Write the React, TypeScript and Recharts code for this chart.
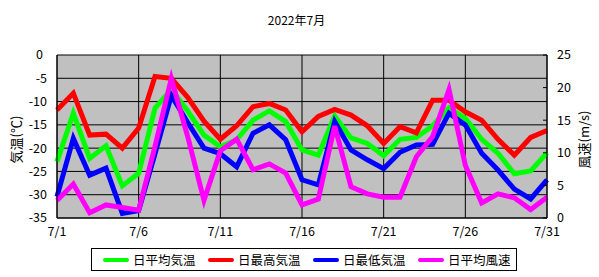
import { CartesianGrid, ComposedChart, Line, XAxis, YAxis } from "recharts"

const days = [
  1, 2, 3, 4, 5, 6, 7, 8, 9, 10, 11, 12, 13, 14, 15, 16, 17, 18, 19, 20, 21,
  22, 23, 24, 25, 26, 27, 28, 29, 30, 31,
]

const avgTemp = [
  -22.9, -12.5, -22.2, -19.5, -28.1, -25.4, -11.4, -7.4, -12.0, -17.2, -19.7,
  -18.2, -14.0, -12.0, -14.3, -20.4, -21.5, -13.1, -17.8, -19.0, -21.6, -18.1,
  -17.7, -15.2, -11.4, -13.6, -18.1, -21.1, -25.5, -24.9, -21.0,
]

const maxTemp = [
  -11.8, -8.2, -17.2, -17.0, -20.0, -15.7, -4.6, -5.0, -9.1, -14.2, -18.1,
  -15.2, -11.1, -10.4, -11.8, -16.5, -13.2, -11.7, -12.9, -15.2, -19.0, -15.4,
  -16.7, -9.7, -9.7, -12.2, -14.0, -18.1, -21.5, -17.7, -16.2,
]

const minTemp = [
  -30.4, -17.9, -25.8, -24.3, -34.0, -33.4, -21.2, -8.7, -14.5, -20.0, -21.2,
  -24.0, -16.8, -15.0, -18.2, -26.8, -27.9, -14.3, -20.4, -22.5, -24.4, -20.9,
  -19.3, -19.2, -12.5, -15.0, -21.1, -24.7, -28.8, -30.9, -26.8,
]

const avgWind = [
  2.7, 5.2, 0.8, 2.0, 1.6, 1.2, 11.0, 21.4, 12.5, 2.7, 10.3, 12.1, 7.4, 8.3,
  6.9, 2.0, 2.9, 14.1, 4.8, 3.7, 3.2, 3.2, 9.4, 12.5, 19.7, 8.1, 2.3, 3.7, 3.1,
  1.3, 3.2,
]

const xTicks = [1, 6, 11, 16, 21, 26, 31]
const tempTicks = [-35, -30, -25, -20, -15, -10, -5, 0]
const windTicks = [0, 5, 10, 15, 20, 25]

const series = [
  { key: "avgTemp", name: "日平均気温", color: "#00FF00", axis: "temp" },
  { key: "maxTemp", name: "日最高気温", color: "#FF0000", axis: "temp" },
  { key: "minTemp", name: "日最低気温", color: "#0000FF", axis: "temp" },
  { key: "avgWind", name: "日平均風速", color: "#FF00FF", axis: "wind" },
]

const font = '"Noto Sans CJK JP", "Noto Sans", sans-serif'

const data = days.map((day, i) => ({
  day,
  avgTemp: avgTemp[i],
  maxTemp: maxTemp[i],
  minTemp: minTemp[i],
  avgWind: avgWind[i],
}))

const LeftTick = ({ x, y, payload }: any) => (
  <text
    x={x - (payload.value === 0 ? 4 : 0)}
    y={y}
    dy="0.35em"
    textAnchor="end"
    fontSize={12.5}
    fontFamily={font}
    fill="#000"
  >
    {payload.value}
  </text>
)

// right axis: short tick mark drawn inward, label to the right
const RightTick = ({ x, y, payload }: any) => (
  <g>
    <line x1={x - 4} x2={x} y1={y} y2={y} stroke="#000" />
    <text
      x={x + 10}
      y={y}
      dy="0.35em"
      textAnchor="start"
      fontSize={12.5}
      fontFamily={font}
      fill="#000"
    >
      {payload.value}
    </text>
  </g>
)

const axisTitle = (text: string, dx: number) => (props: any) => {
  const vb = props.viewBox || { x: 0, y: 0, width: 0, height: 0 }
  const cx = vb.x + dx
  const cy = vb.y + vb.height / 2 + 3
  return (
    <text
      x={cx}
      y={cy}
      transform={`rotate(-90, ${cx}, ${cy})`}
      textAnchor="middle"
      dominantBaseline="central"
      fontSize={13}
      fontFamily={font}
      fill="#000"
    >
      {text}
    </text>
  )
}

export default function App() {
  return (
    <div
      style={{
        position: "absolute",
        left: 0,
        top: 0,
        width: 599,
        height: 277,
        background: "#fff",
        fontFamily: font,
      }}
    >
      <div
        style={{
          position: "absolute",
          left: 0,
          top: 11,
          width: 593,
          textAlign: "center",
          fontSize: 12,
          lineHeight: "18px",
        }}
      >
        2022年7月
      </div>

      <ComposedChart
        width={599}
        height={277}
        data={data}
        margin={{ top: 55, right: 0, bottom: 29, left: 0 }}
      >
        <CartesianGrid
          yAxisId="temp"
          stroke="#000"
          strokeOpacity={1}
          fill="#C0C0C0"
          fillOpacity={1}
        />
        <XAxis
          dataKey="day"
          type="number"
          domain={[1, 31]}
          ticks={xTicks}
          interval={0}
          height={30}
          tickSize={0}
          tickMargin={9}
          tickFormatter={(v) => `7/${v}`}
          tick={{ fontSize: 12.5, fontFamily: font, fill: "#000" }}
          axisLine={{ stroke: "#000" }}
        />
        <YAxis
          yAxisId="temp"
          orientation="left"
          domain={[-35, 0]}
          ticks={tempTicks}
          interval={0}
          width={57}
          tickSize={0}
          tickMargin={10}
          tick={<LeftTick />}
          axisLine={{ stroke: "#000" }}
          label={{ content: axisTitle("気温(℃)", 15) }}
        />
        <YAxis
          yAxisId="wind"
          orientation="right"
          domain={[0, 25]}
          ticks={windTicks}
          interval={0}
          width={52}
          tickSize={0}
          tickMargin={0}
          tick={<RightTick />}
          axisLine={{ stroke: "#000" }}
          label={{ content: axisTitle("風速(m/s)", 36) }}
        />
        {series.map((s) => (
          <Line
            key={s.key}
            yAxisId={s.axis}
            type="linear"
            dataKey={s.key}
            name={s.name}
            stroke={s.color}
            strokeWidth={5}
            dot={false}
            activeDot={false}
            isAnimationActive={false}
          />
        ))}
      </ComposedChart>

      <div
        style={{
          position: "absolute",
          left: 91,
          top: 248,
          width: 424,
          height: 21,
          border: "1px solid #000",
          display: "flex",
          alignItems: "center",
          fontSize: 13,
        }}
      >
        {series.map((s) => (
          <div
            key={s.key}
            style={{
              width: 105,
              display: "flex",
              alignItems: "center",
              paddingLeft: 11,
              boxSizing: "border-box",
              whiteSpace: "nowrap",
            }}
          >
            <span
              style={{
                display: "inline-block",
                width: 26,
                height: 4,
                borderRadius: 2,
                background: s.color,
                marginRight: 4,
              }}
            />
            <span style={{ fontSize: 12.5 }}>{s.name}</span>
          </div>
        ))}
      </div>
    </div>
  )
}
